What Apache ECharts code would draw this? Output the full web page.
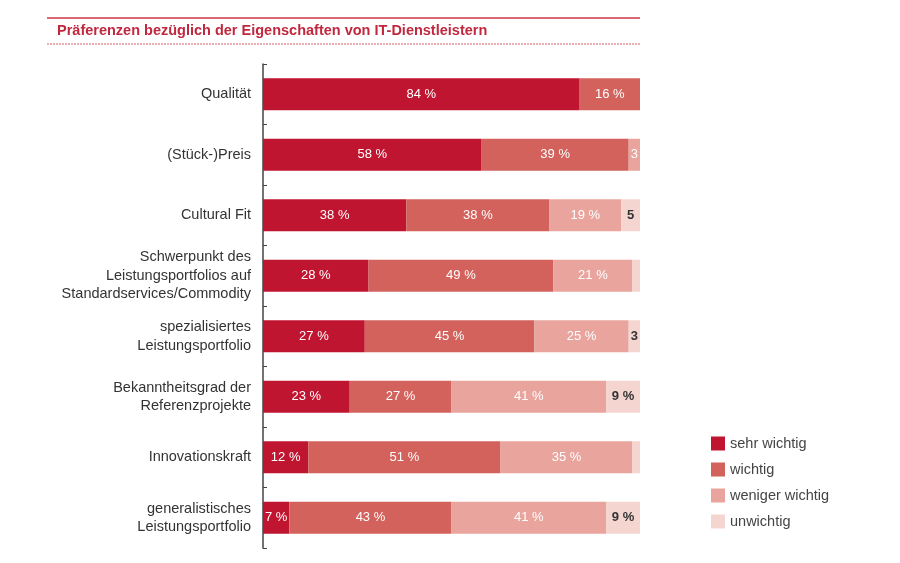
<!DOCTYPE html>
<html>
<head>
<meta charset="utf-8">
<script src="https://cdn.jsdelivr.net/npm/echarts@6/dist/echarts.min.js"></script>
<style>html,body{margin:0;padding:0;background:#fff;}#c{width:900px;height:563px;}</style>
</head>
<body>
<div id="c"></div>
<script>
var categories = [
  'Qualität',
  '(Stück-)Preis',
  'Cultural Fit',
  'Schwerpunkt des\nLeistungsportfolios auf\nStandardservices/Commodity',
  'spezialisiertes\nLeistungsportfolio',
  'Bekanntheitsgrad der\nReferenzprojekte',
  'Innovationskraft',
  'generalistisches\nLeistungsportfolio'
];
var seriesNames = ['sehr wichtig', 'wichtig', 'weniger wichtig', 'unwichtig'];
var sehrWichtig    = [84, 58, 38, 28, 27, 23, 12, 7];
var wichtig        = [16, 39, 38, 49, 45, 27, 51, 43];
var wenigerWichtig = [0, 3, 19, 21, 25, 41, 35, 41];
var unwichtig      = [0, 0, 5, 2, 3, 9, 2, 9];
var colors = ['#c01530', '#d2625b', '#e8a49d', '#f4d5d0'];
var labelColors = ['#fff', '#fff', '#fff', '#333'];

function fmt(p) {
  var v = p.value;
  if (v >= 7) return v + ' %';
  if (v >= 3) return String(v);
  return '';
}

var allData = [sehrWichtig, wichtig, wenigerWichtig, unwichtig];
var series = allData.map(function (d, i) {
  return {
    name: seriesNames[i],
    type: 'bar',
    stack: 'total',
    data: d,
    barWidth: 32,
    itemStyle: { color: colors[i] },
    label: {
      show: true,
      position: 'inside',
      formatter: fmt,
      color: labelColors[i],
      fontFamily: 'Liberation Sans',
      fontSize: 13,
      fontWeight: i === 3 ? 'bold' : 'normal'
    },
    emphasis: { disabled: true }
  };
});

var chart = echarts.init(document.getElementById('c'));
chart.setOption({
  animation: false,
  textStyle: { fontFamily: 'Liberation Sans' },
  grid: { left: 263, right: 260, top: 64, bottom: 15 },
  xAxis: { type: 'value', min: 0, max: 100, show: false },
  yAxis: {
    type: 'category',
    data: categories,
    inverse: true,
    axisLine: { show: true, lineStyle: { color: '#444', width: 1.5 } },
    axisTick: { show: true, inside: true, length: 4, lineStyle: { color: '#444' } },
    axisLabel: { color: '#333', fontSize: 14.5, lineHeight: 18.5, margin: 12, align: 'right' }
  },
  legend: {
    orient: 'vertical',
    left: 706,
    top: 431,
    itemWidth: 14,
    itemHeight: 14,
    itemGap: 11,
    icon: 'rect',
    data: seriesNames,
    textStyle: { color: '#444', fontSize: 14.5 }
  },
  graphic: [
    { type: 'line', shape: { x1: 47, y1: 18, x2: 640, y2: 18 }, style: { stroke: '#d96a73', lineWidth: 2 } },
    { type: 'line', shape: { x1: 47, y1: 44, x2: 640, y2: 44 }, style: { stroke: '#e3959b', lineWidth: 1.5, lineDash: [2, 1] } },
    { type: 'text', left: 57, top: 23, style: { text: 'Präferenzen bezüglich der Eigenschaften von IT-Dienstleistern', fill: '#c0283e', font: 'bold 14.5px "Liberation Sans"' } }
  ],
  series: series
});
</script>
</body>
</html>
